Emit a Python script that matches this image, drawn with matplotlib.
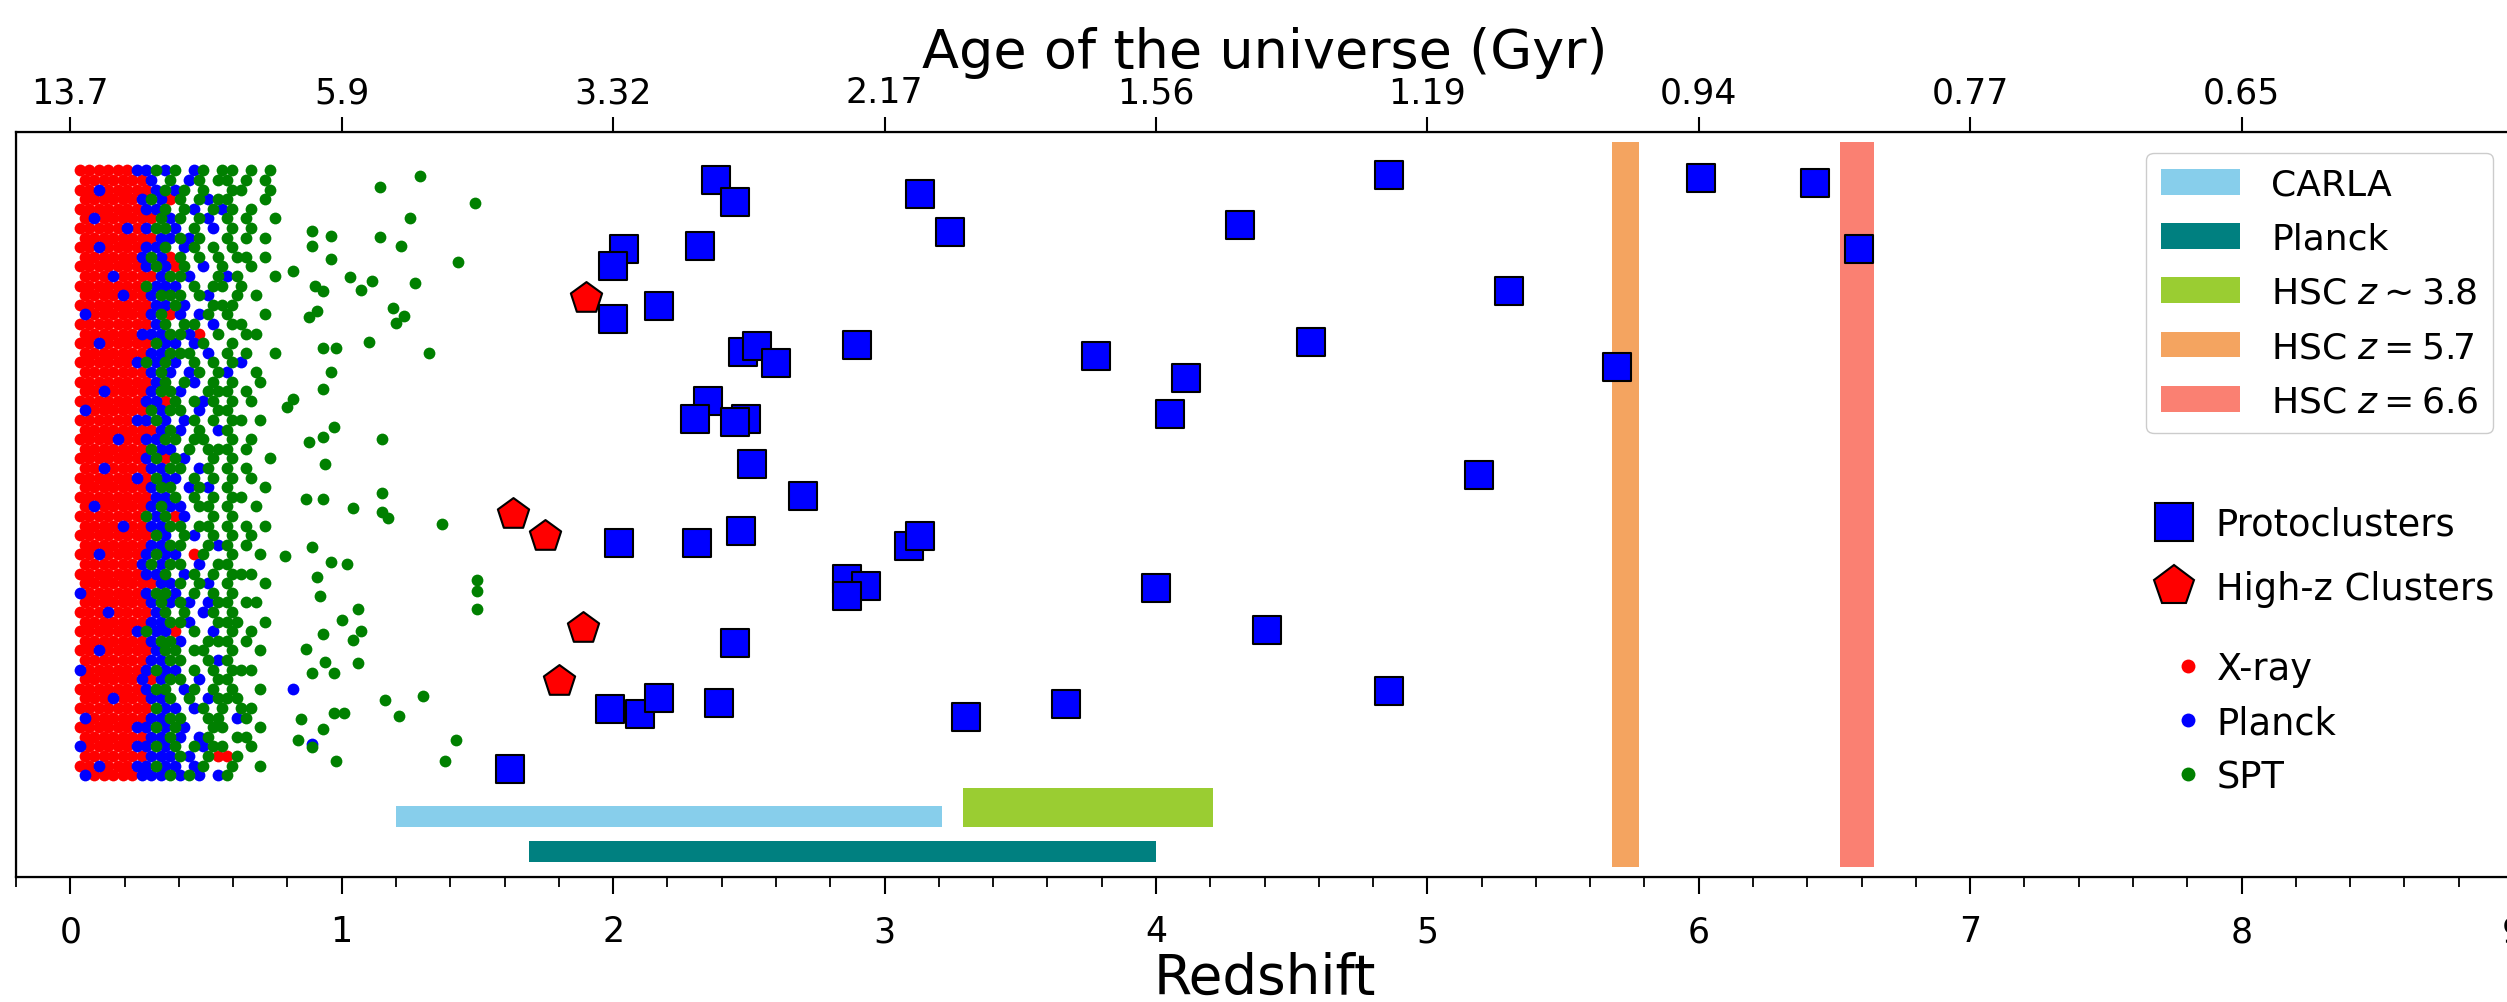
import matplotlib.pyplot as plt
from matplotlib.patches import Patch
from matplotlib.lines import Line2D
from matplotlib.ticker import MultipleLocator


# top axis: age of the universe at integer redshifts
age_ticks_z = [0, 1, 2, 3, 4, 5, 6, 7, 8]
age_labels = ["13.7", "5.9", "3.32", "2.17", "1.56", "1.19", "0.94", "0.77", "0.65"]
redshift_ticks = [0, 1, 2, 3, 4, 5, 6, 7, 8, 9]

# protoclusters (redshift, arbitrary vertical position)
proto_z = [2.38, 2.45, 3.13, 3.24, 2.04, 2.00, 2.32, 2.00, 2.17, 2.48,
           2.53, 2.60, 2.90, 2.35, 2.30, 2.49, 2.45, 2.51, 2.70, 2.02,
           2.31, 2.47, 2.86, 2.93, 2.86, 3.09, 3.13, 2.45, 1.99, 2.10,
           2.17, 2.39, 3.30, 1.62, 4.86, 4.31, 6.01, 6.43, 6.59, 5.30,
           4.57, 3.78, 4.11, 4.05, 5.70, 5.19, 4.00, 4.41, 3.67, 4.86]
proto_y = [90.7, 87.9, 88.9, 84.0, 81.8, 79.5, 82.1, 72.7, 74.4, 68.3,
           69.2, 66.9, 69.3, 62.0, 59.6, 59.6, 59.2, 53.8, 49.6, 43.5,
           43.5, 45.0, 38.8, 37.9, 36.6, 43.1, 44.4, 30.5, 21.9, 21.2,
           23.3, 22.7, 20.8, 14.1, 91.4, 84.9, 91.0, 90.3, 81.8, 76.3,
           69.6, 67.8, 65.0, 60.3, 66.4, 52.3, 37.6, 32.2, 22.5, 24.2]

# high-z clusters
highz_z = [1.90, 1.63, 1.75, 1.89, 1.80]
highz_y = [75.4, 47.3, 44.4, 32.4, 25.5]

# low-z cluster catalogues: dense part read as a staggered map
# r = X-ray, b = Planck, g = SPT, . = empty
cloud_z0 = 0.035
cloud_dz = 0.035
cloud_y0 = 92.0
cloud_dy = 1.25
cloud_rows = [
    "rrrrrrb bgb g.bg. gg. g.g",
    "rrrrrrr b.g .bg.g g.g .g.",
    "rrbrrrr rbg bg.g. .gg ..g",
    "rrrrrrb gbr g.gbg g.. .g.",
    "rrrrrrr bbg .gb.g bg. g..",
    "rbrrrrr rgb g.gb. g.g ..g",
    "rrrrrbr bgg b.g.b .g. g..",
    "rrrrrrr rbb gbg.. g.g .g.",
    "rrbrrrr bbg .bg.g .g. ...",
    "rrrrrrb gbr g.g.g .gg .g.",
    "rrrrrrr bgb rg.b. g.. g..",
    "rrrbrrr rbg gb..g bg. ..g",
    "rrrrrrr gbb b.g.g g.g ...",
    "rrrrbrr bgg g.gb. .g. g..",
    "rrrrrrr rbb gb..g gg. ...",
    "brrrrrr bgr b.bg. g.. .g.",
    "rrrrrrr rbg .gg.b .gg ...",
    "rrrrrrb bbg gbr.g ..g g..",
    "rrbrrrr rgb b.bg. .g. ...",
    "rrrrrrr bbg gg.b. g.g ..g",
    "rrrrrrb gbg b.g.g .gb ...",
    "rrrrrrr bgb .bg.g b.. g..",
    "rrrrrrr rbg .gb.g .g. .g.",
    "rrbrrrr bgg b..gg g.g ...",
    "rrrrrrr bbr g.gbg .g. g..",
    "brrrrrr gbg g.b.g g.. ...",
    "rrrrrrb bgb .bg.g .gg .g.",
    "rrrrrrr rbg b.g.b g.. ...",
    "rrrrbrr bbg g.gg. .g. g..",
    "rrrrrrr gbb .g.gg g.g ...",
    "rrrrrrr bgr gb..g .g. ..g",
    "rrbrrrr bbg g.bg. g.g ...",
    "rrrrrrb rgb b.g.g .g. g..",
    "rrrrrrr bgg .bgb. g.. .g.",
    "rrrrrrr rbb g.g.g .gg ...",
    "rbrrrrr bgb b.gg. g.. g..",
    "rrrrrrr gbg rb..g .g. ...",
    "rrrrbrr bbg g.gg. g.g .g.",
    "rrrrrrr rgb .gb.g .g. g..",
    "rrrrrrr bbg g..gb g.g ...",
    "rrbrrrr bgb b.rg. .g. .g.",
    "rrrrrrb gbg g.b.g g.. ...",
    "rrrrrrr bbg .bg.g .gg g..",
    "rrrrrrr rbb g.gb. g.. .g.",
    "brrrrrr bgg b.g.g .g. ...",
    "rrrrrrr bgb gb.bg g.g g..",
    "rrrbrrr rbg .g.bg .g. ...",
    "rrrrrrr bbg gb..g gg. .g.",
    "rrrrrrb gbb r.g.b .g. g..",
    "rrrrrrr bgg b..gg g.g ...",
    "rrbrrrr rbg g.gg. .g. .g.",
    "rrrrrrr bbg g..gb g.. ...",
    "brrrrrr bgb b.g.g .gg g..",
    "rrrrrrb rbg g.b.g g.. ...",
    "rrrrrrr bgg .bg.g .g. .g.",
    "rrrbrrr bbg .g.bg gg. ...",
    "rrrrrrr rgb b.bg. g.g g..",
    "brrrrrr bbg g..gg .bg ...",
    "rrrrrrb bgb gb..g g.. .g.",
    "rrrrrrr bbg b.bg. .gg ...",
    "brrrrrb bgb g.gbg g.. g..",
    "rrrrrrr bbb gb.gr rg. ...",
    "rrbrrrb bgb b.bg. .g. .g.",
    "brrrrrb bbg bgb.b g.. ...",
]

# scattered SPT clusters beyond the dense part
spt_extra_z = [1.14, 1.29, 1.49, 1.25, 1.14, 1.22, 1.43, 0.96, 0.89, 0.89,
               0.96, 0.82, 1.03, 1.11, 1.07, 1.27, 1.19, 1.23, 1.20, 1.10,
               1.32, 0.93, 0.98, 0.96, 0.93, 1.15, 0.88, 0.94, 0.93, 1.15,
               1.15, 1.17, 1.37, 0.87, 0.93, 1.04, 1.50, 1.50, 1.50, 1.02,
               0.96, 1.06, 1.00, 1.07, 0.93, 1.16, 1.21, 1.30, 1.06, 1.01,
               1.42, 1.38, 0.98, 0.89, 0.84, 0.89, 0.79, 0.91, 0.92, 1.04,
               0.87, 0.94, 0.89, 0.97, 0.97, 0.85, 0.93, 0.90, 0.93, 0.88,
               0.91, 0.82, 0.80, 0.97]
spt_extra_y = [89.8, 91.3, 87.8, 85.8, 83.3, 82.2, 80.1, 83.5, 84.1, 82.2,
               80.4, 78.9, 78.1, 77.6, 76.4, 77.3, 74.1, 73.0, 72.1, 69.6,
               68.2, 68.9, 68.9, 65.7, 63.6, 57.0, 56.7, 53.8, 57.3, 50.0,
               47.5, 46.8, 46.0, 49.2, 49.2, 48.0, 38.7, 37.2, 34.9, 40.7,
               41.0, 34.9, 33.5, 32.0, 31.7, 23.0, 21.0, 23.6, 27.9, 21.3,
               17.8, 15.1, 15.1, 16.9, 17.8, 43.0, 41.8, 39.0, 36.6, 30.8,
               29.7, 28.0, 26.6, 26.6, 21.4, 20.6, 19.3, 77.0, 76.3, 72.9,
               73.7, 62.2, 61.2, 58.6]
planck_extra_z = [0.82, 0.89]
planck_extra_y = [24.5, 17.3]

# survey coverage: (label, z_min, z_max, y_low, y_high, colour)
surveys = [
    ("CARLA", 1.20, 3.21, 6.55, 9.3, "skyblue"),
    ("Planck", 1.69, 4.00, 2.0, 4.75, "teal"),
    ("HSC $z\\sim3.8$", 3.29, 4.21, 6.55, 11.6, "yellowgreen"),
    ("HSC $z=5.7$", 5.68, 5.78, 1.3, 95.7, "sandybrown"),
    ("HSC $z=6.6$", 6.52, 6.645, 1.3, 95.7, "salmon"),
]


# unpack the cloud map
cloud = {"r": ([], []), "b": ([], []), "g": ([], [])}
for i, row in enumerate(cloud_rows):
    cells = row.replace(" ", "")
    shift = cloud_dz / 2 if i % 2 else 0.0
    for j, ch in enumerate(cells):
        if ch in cloud:
            cloud[ch][0].append(cloud_z0 + cloud_dz * j + shift)
            cloud[ch][1].append(cloud_y0 - cloud_dy * i)

xray_z, xray_y = cloud["r"]
planck_z = cloud["b"][0] + planck_extra_z
planck_y = cloud["b"][1] + planck_extra_y
spt_z = cloud["g"][0] + spt_extra_z
spt_y = cloud["g"][1] + spt_extra_y

W, H = 2507, 1003
fig = plt.figure(figsize=(W / 100, H / 100), dpi=100)
ax = fig.add_axes([16 / W, 1 - 878 / H, 2497 / W, 745 / H])

dot_s = 72
ax.scatter(xray_z, xray_y, s=dot_s, color="red", linewidths=0, zorder=2)
ax.scatter(planck_z, planck_y, s=dot_s, color="blue", linewidths=0, zorder=2)
ax.scatter(spt_z, spt_y, s=dot_s, color="green", linewidths=0, zorder=2)

survey_handles = []
for label, z0, z1, y0, y1, col in surveys:
    ax.bar(z0, y1 - y0, width=z1 - z0, bottom=y0, align="edge",
           color=col, linewidth=0, zorder=1)
    survey_handles.append(Patch(facecolor=col, label=label))

ax.scatter(proto_z, proto_y, s=430, marker="s", color="blue",
           edgecolors="black", linewidths=1.5, zorder=4)
ax.scatter(highz_z, highz_y, s=560, marker="p", color="red",
           edgecolors="black", linewidths=1.5, zorder=4)

ax.set_xlim(-0.2, 9.0)
ax.set_ylim(0, 97)
ax.set_yticks([])
ax.set_xticks(redshift_ticks)
ax.xaxis.set_minor_locator(MultipleLocator(0.2))
ax.tick_params(axis="x", which="major", length=12, width=1.5, labelsize=25, pad=15)
ax.tick_params(axis="x", which="minor", length=7, width=1.3)
ax.set_xlabel("Redshift", fontsize=39.5, labelpad=2)
for sp in ax.spines.values():
    sp.set_linewidth(1.6)

ax2 = ax.twiny()
ax2.set_xlim(ax.get_xlim())
ax2.set_xticks(age_ticks_z)
ax2.set_xticklabels(age_labels)
ax2.tick_params(axis="x", length=11, width=1.5, labelsize=25, pad=5.5)
ax2.set_xlabel("Age of the universe (Gyr)", fontsize=39, labelpad=6)

leg1 = ax.legend(handles=survey_handles, loc="upper right",
                 bbox_to_anchor=(2493 / W, 1 - 154 / H),
                 bbox_transform=fig.transFigure, borderaxespad=0,
                 fontsize=26, handlelength=2.2, handleheight=0.73,
                 handletextpad=0.86, labelspacing=0.56, borderpad=0.4,
                 framealpha=1, edgecolor="#cccccc")
ax.add_artist(leg1)

marker_handles = [
    Line2D([], [], marker="s", linestyle="None", markersize=27,
           markerfacecolor="blue", markeredgecolor="black", markeredgewidth=1.5,
           label="Protoclusters"),
    Line2D([], [], marker="p", linestyle="None", markersize=30,
           markerfacecolor="red", markeredgecolor="black", markeredgewidth=1.5,
           label="High-z Clusters"),
]
leg2 = ax.legend(handles=marker_handles, loc="upper left",
                 bbox_to_anchor=(2137 / W, 1 - 492 / H),
                 bbox_transform=fig.transFigure, borderaxespad=0,
                 fontsize=26.5, handlelength=1.2, handletextpad=0.54,
                 labelspacing=0.74, borderpad=0.4, frameon=False)
ax.add_artist(leg2)

dot_handles = [
    Line2D([], [], marker="o", linestyle="None", markersize=10, color=c,
           markeredgewidth=0, label=lab)
    for c, lab in [("red", "X-ray"), ("blue", "Planck"), ("green", "SPT")]
]
ax.legend(handles=dot_handles, loc="upper left",
          bbox_to_anchor=(2159 / W, 1 - 636 / H),
          bbox_transform=fig.transFigure, borderaxespad=0,
          fontsize=26.5, handlelength=0.8, handletextpad=0.36,
          labelspacing=0.47, borderpad=0.4, frameon=False)

fig.savefig("out.png", dpi=100)
